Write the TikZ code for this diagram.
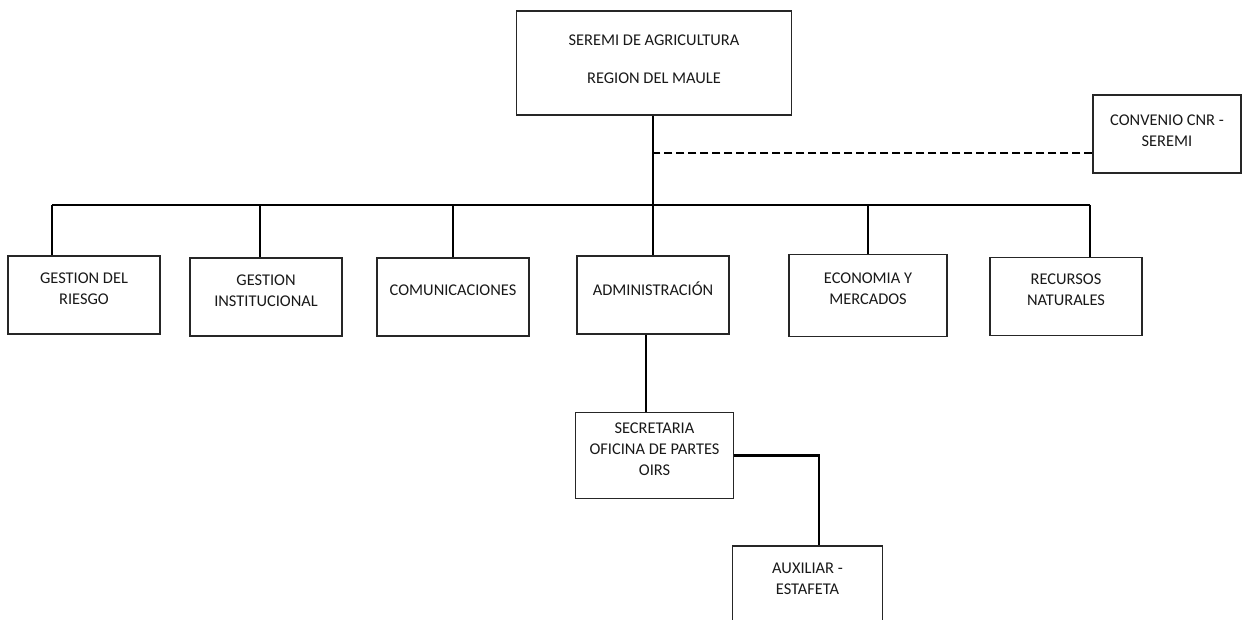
\documentclass[tikz,border=0pt]{standalone}
\usepackage{fontspec}
\setmainfont{Carlito}
\usepackage{tikz}
\usetikzlibrary{positioning, calc}
\tikzstyle{unit} = [draw=black!85, line width=0.8pt, fill=white, align=center, minimum width=114pt, minimum height=58.5pt, text=black!90, text depth=10pt, font=\fontsize{12.3}{15.75}\selectfont]
\tikzstyle{link} = [line width=1.6pt, black]
\tikzstyle{dashlink} = [line width=1.6pt, black, dash pattern=on 6pt off 3pt]

\begin{document}
\begin{tikzpicture}[x=0.75pt, y=-0.75pt]
\useasboundingbox (0,0) rectangle (1243,620);

% Seremi and convenio
\node[unit, minimum width=206pt, minimum height=78pt, text depth=6pt] (seremi) at (654,63) {SEREMI DE AGRICULTURA\\[13pt]REGION DEL MAULE};
\node[unit, minimum width=111pt, text depth=5pt] (cnr) at (1167,134) {CONVENIO CNR -\\SEREMI};

% Second level units
\node[unit] (riesgo) at (84,295) {GESTION DEL\\RIESGO};
\node[unit] (institucional) at (266,297) {GESTION\\INSTITUCIONAL};
\node[unit] (comunicaciones) at (453,297) {COMUNICACIONES};
\node[unit] (administracion) at (653,295) {ADMINISTRACIÓN};
\node[unit, minimum width=118.5pt, minimum height=62pt] (economia) at (868,295.5) {ECONOMIA Y\\MERCADOS};
\node[unit] (recursos) at (1066,296.5) {RECURSOS\\NATURALES};

% Lower units
\node[unit, minimum width=118pt, minimum height=64pt] (secretaria) at (654.5,455.5) {SECRETARIA\\OFICINA DE PARTES\\OIRS};
\node[unit, minimum width=113pt] (auxiliar) at (807.5,585) {AUXILIAR -\\ESTAFETA};

% Bus
\coordinate (bus) at (653,205);
\draw[link] (seremi.south -| bus) -- (bus);
\draw[link] ([xshift=-24pt]riesgo.north |- bus) -- ([xshift=18pt]recursos.north |- bus);
\draw[link] ([xshift=-24pt]riesgo.north |- bus) -- ([xshift=-24pt]riesgo.north);
\draw[link] ([xshift=-4.5pt]institucional.north |- bus) -- ([xshift=-4.5pt]institucional.north);
\draw[link] (comunicaciones.north |- bus) -- (comunicaciones.north);
\draw[link] (administracion.north |- bus) -- (administracion.north);
\draw[link] (economia.north |- bus) -- (economia.north);
\draw[link] ([xshift=18pt]recursos.north |- bus) -- ([xshift=18pt]recursos.north);

% Convenio (dashed)
\draw[dashlink] ([yshift=-14pt]cnr.west) -- ([yshift=-14pt]cnr.west -| bus);

% Administracion branch
\draw[link] ([xshift=-5pt]administracion.south) -- ([xshift=-5pt]administracion.south |- secretaria.north);
\draw[link] (secretaria.east) -| ([xshift=8.5pt]auxiliar.north);

\end{tikzpicture}
\end{document}
